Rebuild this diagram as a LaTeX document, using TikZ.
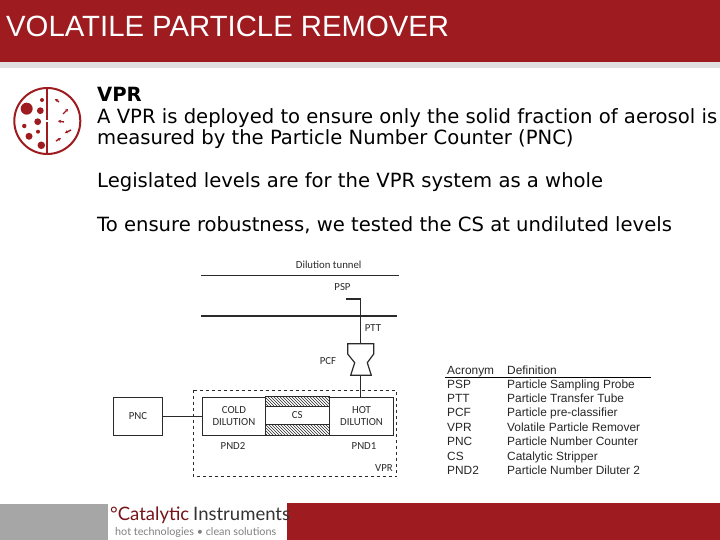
\documentclass[tikz,border=0pt]{standalone}
\usepackage{fontspec}
\setmainfont{Liberation Sans}
\newfontfamily\bodyf{DejaVu Sans}
\newfontfamily\carl{Carlito}
\newfontfamily\logof{Lato}
\usetikzlibrary{patterns}
\definecolor{brick}{HTML}{9E1B20}
\definecolor{dia}{HTML}{2A2A2A}
\tikzset{
 x=1pt,y=-1pt,
 body/.style={anchor=base west,inner sep=0pt,font=\bodyf\fontsize{19.6}{20}\selectfont,text=black},
 tab/.style={anchor=base west,inner sep=0pt,font=\fontsize{11.9}{12}\selectfont,text=black!85},
 lab/.style={inner sep=0pt,font=\carl\fontsize{10.8}{11}\selectfont,text=dia},
 unit/.style={draw=dia,line width=1.1pt,fill=white,inner sep=0pt,align=center,font=\carl\fontsize{10.8}{11}\selectfont,text=dia,anchor=north west},
 hatchbox/.style={draw=dia,line width=.8pt,pattern=north west lines,pattern color=dia},
 wire/.style={draw=dia,line width=1pt},
 dot/.style={fill=brick,draw=none},
 mini/.style={draw=brick,line width=1.4pt,-{Stealth[length=3pt,width=3.5pt]}},
}
\usetikzlibrary{arrows.meta}
\begin{document}
\begin{tikzpicture}
\useasboundingbox (0,0) rectangle (720,540);
% bands
\fill[brick] (0,0) rectangle (720,62);
\fill[black!12] (0,62) rectangle (720,68);
\fill[black!35] (0,504) rectangle (108,540);
\fill[brick] (287,503) rectangle (720,540);
\node[anchor=base west,inner sep=0pt,text=white,font=\fontsize{29.3}{30}\selectfont] (title) at (6,37) {VOLATILE PARTICLE REMOVER};
% icon
\draw[brick,line width=2pt] (47.3,121) circle (33);
\draw[brick,line width=2pt] (47.3,88) -- (47.3,120) (47.3,122.5) -- (47.3,154);
\foreach \px/\py/\r in {26.7/108.7/6,40.3/110.7/3.4,42/100/2,37.7/121.7/3.4,24.3/126/2.2,38/131.7/2,29/136.3/3.5,41.3/145.3/3.8}{
 \fill[dot] (\px,\py) circle (\r);}
\foreach \ax/\ay/\bx/\by in {59/102/55/99, 63/114/68/109, 64/122/58/121, 71/130/65/133, 56/141/61/138}{
 \draw[mini] (\ax,\ay) -- (\bx,\by);}
% body text
\node[body,font=\bodyf\bfseries\fontsize{19.6}{20}\selectfont] (t1) at (97,102) {VPR};
\node[body] (t2) at (97,124) {A VPR is deployed to ensure only the solid fraction of aerosol is};
\node[body] (t3) at (97,145) {measured by the Particle Number Counter (PNC)};
\node[body] (t4) at (97,188) {Legislated levels are for the VPR system as a whole};
\node[body] (t5) at (97,232) {To ensure robustness, we tested the CS at undiluted levels};
% diagram
\node[lab] (dt) at (328.7,265) {Dilution tunnel};
\coordinate (w1a) at (201,275); \coordinate (w1b) at (399,275);
\draw[wire] (w1a) -- (w1b);
\coordinate (w2a) at (201,315.7); \coordinate (w2b) at (397,315.7);
\draw[dia,line width=1.6pt] (w2a) -- (w2b);
\node[lab] (psp) at (342.5,287) {PSP};
\node[lab] (ptt) at (373,328) {PTT};
\node[lab] (pcf) at (328,361) {PCF};
\coordinate (st) at (346,299); \coordinate (bend) at (360.5,299);
\coordinate (pcftop) at (360.5,343.7); \coordinate (pcfbot) at (360.5,375.3);
\draw[dia,line width=1.3pt] (st) -- (bend);
\draw[wire] (bend) -- (pcftop);
\draw[dia,line width=1.2pt,fill=white] (347.7,343.7) -- (373.7,343.7) -- (373.7,354) -- (367.3,362.7) -- (371.3,375.3) -- (350.7,375.3) -- (354.7,362.7) -- (347.7,354) -- cycle;
\draw[dia,dashed,line width=.9pt] (193.3,390) rectangle (396.5,476.7);
\node[unit,minimum width=48.4pt,minimum height=38.3pt] (pnc) at (113.3,396.7) {PNC};
\node[unit,minimum width=63.3pt,minimum height=38.3pt] (cold) at (201.7,396.7) {COLD\\[1pt]DILUTION};
\node[unit,minimum width=63.4pt,minimum height=38.3pt] (hot) at (329.3,396.7) {HOT\\[1pt]DILUTION};
\draw[hatchbox] (265,396.7) rectangle (329.3,406.7);
\draw[hatchbox] (265,424.3) rectangle (329.3,435);
\node[lab] (cs) at (297.2,415.5) {CS};
\draw[dia,line width=1.3pt] (pnc.east) -- (cold.west);
\draw[wire] (pcfbot) -- (pcfbot |- hot.north);
\node[lab] (pnd2) at (233,446) {PND2};
\node[lab] (pnd1) at (364,446) {PND1};
\node[lab] (vpr) at (384,468) {VPR};
% table
\node[tab] (h1) at (447,374) {Acronym};
\node[tab] (h2) at (507,374) {Definition};
\coordinate (r1) at (445,377.3); \coordinate (r2) at (651,377.3);
\draw[black,line width=1pt] (r1) -- (r2);
\foreach \i/\yy/\a/\d in {1/388.5/PSP/Particle Sampling Probe,2/402.5/PTT/Particle Transfer Tube,3/416.5/PCF/Particle pre-classifier,4/431/VPR/Volatile Particle Remover,5/445/PNC/Particle Number Counter,6/460/CS/Catalytic Stripper,7/474/PND2/Particle Number Diluter 2}{
 \node[tab] (a\i) at (447,\yy) {\a};
 \node[tab] (d\i) at (507,\yy) {\d};}
% logo
\fill[white] (108,503) rectangle (287,540);
\node[anchor=base west,inner sep=0pt,font=\logof\fontsize{18.5}{19}\selectfont,text=brick!75!black] (lg1) at (110,520) {°Catalytic};
\node[anchor=base west,inner sep=0pt,font=\logof\fontsize{18.5}{19}\selectfont,text=black!80] (lg2) at (193,520) {Instruments};
\node[anchor=base west,inner sep=0pt,font=\logof\fontsize{10.8}{11}\selectfont,text=black!50] (lg3) at (115,535) {hot technologies • clean solutions};
\end{tikzpicture}
\end{document}
